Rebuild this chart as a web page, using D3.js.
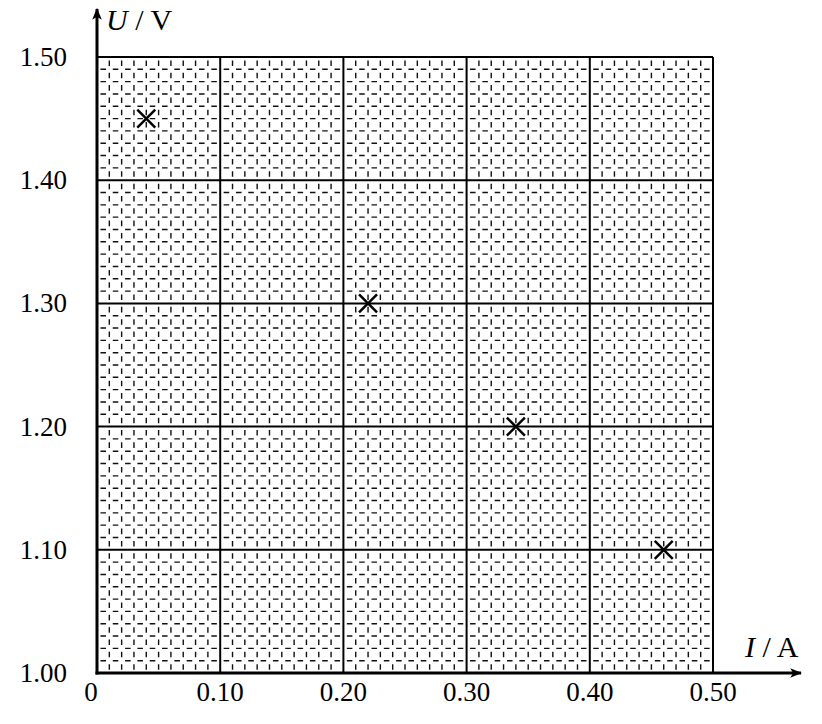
<!DOCTYPE html>
<meta charset="utf-8">
<body style="margin:0;background:#fff">
<script src="https://d3js.org/d3.v7.min.js"></script>
<script>

var xTicks = [0, 0.10, 0.20, 0.30, 0.40, 0.50]
var yTicks = [1.00, 1.10, 1.20, 1.30, 1.40, 1.50]
var pointsI = [0.04, 0.22, 0.34, 0.46]
var pointsU = [1.45, 1.30, 1.20, 1.10]

var width = 822,
    height = 724

var svg = d3.select("body").append("svg")
    .attr("width", width)
    .attr("height", height)
    .style("font-family", "'Liberation Serif', 'Times New Roman', serif");

var x = d3.scaleLinear().domain([0, 0.5]).range([97, 713]);
var y = d3.scaleLinear().domain([1.0, 1.5]).range([673, 57]);

var cell = (x(0.01) - x(0));

// minor grid, dashed like the printed graph paper
var minor = d3.range(1, 50).filter(function(i) { return i % 10 != 0 });

svg.append("g").selectAll("line")
    .data(minor)
    .enter().append("line")
    .attr("x1", function(d) { return x(d / 100); })
    .attr("x2", function(d) { return x(d / 100); })
    .attr("y1", y(1.5))
    .attr("y2", y(1.0))
    .attr("stroke", "#111")
    .attr("stroke-width", 1.4)
    .attr("stroke-dasharray", (cell * 0.45) + " " + (cell * 0.55))
    .attr("stroke-dashoffset", -cell * 0.28);

svg.append("g").selectAll("line")
    .data(minor)
    .enter().append("line")
    .attr("y1", function(d) { return y(1 + d / 100); })
    .attr("y2", function(d) { return y(1 + d / 100); })
    .attr("x1", x(0))
    .attr("x2", x(0.5))
    .attr("stroke", "#111")
    .attr("stroke-width", 1.4)
    .attr("stroke-dasharray", (cell * 0.45) + " " + (cell * 0.55))
    .attr("stroke-dashoffset", -cell * 0.28);

// major grid
svg.append("g").selectAll("line")
    .data(xTicks.slice(1))
    .enter().append("line")
    .attr("x1", function(d) { return x(d); })
    .attr("x2", function(d) { return x(d); })
    .attr("y1", y(1.5))
    .attr("y2", y(1.0))
    .attr("stroke", "#000")
    .attr("stroke-width", 2);

svg.append("g").selectAll("line")
    .data(yTicks.slice(1))
    .enter().append("line")
    .attr("y1", function(d) { return y(d); })
    .attr("y2", function(d) { return y(d); })
    .attr("x1", x(0))
    .attr("x2", x(0.5))
    .attr("stroke", "#000")
    .attr("stroke-width", 2);

// axes with arrows
svg.append("defs").append("marker")
    .attr("id", "arrow")
    .attr("viewBox", "0 0 10 10")
    .attr("refX", 9)
    .attr("refY", 5)
    .attr("markerWidth", 12)
    .attr("markerHeight", 12)
    .attr("markerUnits", "userSpaceOnUse")
    .attr("orient", "auto")
  .append("path")
    .attr("d", "M0,1 L10,5 L0,9 L2.5,5 Z")
    .attr("fill", "#000");

svg.append("line")
    .attr("x1", x(0) - 1.5).attr("x2", 801)
    .attr("y1", y(1.0)).attr("y2", y(1.0))
    .attr("stroke", "#000").attr("stroke-width", 3)
    .attr("marker-end", "url(#arrow)");

svg.append("line")
    .attr("x1", x(0)).attr("x2", x(0))
    .attr("y1", y(1.0) + 1.5).attr("y2", 9)
    .attr("stroke", "#000").attr("stroke-width", 3)
    .attr("marker-end", "url(#arrow)");

// tick labels
svg.append("g").selectAll("text")
    .data(xTicks)
    .enter().append("text")
    .attr("x", function(d) { return d == 0 ? x(d) - 6 : x(d); })
    .attr("y", 701)
    .attr("text-anchor", "middle")
    .attr("font-size", 27)
    .text(function(d) { return d == 0 ? "0" : d.toFixed(2); });

svg.append("g").selectAll("text")
    .data(yTicks)
    .enter().append("text")
    .attr("x", 67)
    .attr("y", function(d) { return y(d) + 9; })
    .attr("text-anchor", "end")
    .attr("font-size", 27)
    .text(function(d) { return d.toFixed(2); });

// axis titles
var ut = svg.append("text").attr("x", 106).attr("y", 30).attr("font-size", 30);
ut.append("tspan").attr("font-style", "italic").text("U");
ut.append("tspan").text(" / V");

var it = svg.append("text").attr("x", 745).attr("y", 657).attr("font-size", 30);
it.append("tspan").attr("font-style", "italic").text("I");
it.append("tspan").text(" / A");

// data points as crosses
var pts = pointsI.map(function(v, i) { return [v, pointsU[i]]; });
var s = 9;
svg.append("g").selectAll("path")
    .data(pts)
    .enter().append("path")
    .attr("d", function(d) {
      var cx = x(d[0]), cy = y(d[1]);
      return "M" + (cx - s) + "," + (cy - s) + "L" + (cx + s) + "," + (cy + s) +
             "M" + (cx - s) + "," + (cy + s) + "L" + (cx + s) + "," + (cy - s);
    })
    .attr("stroke", "#000")
    .attr("stroke-width", 2.5)
    .attr("fill", "none");

</script>
